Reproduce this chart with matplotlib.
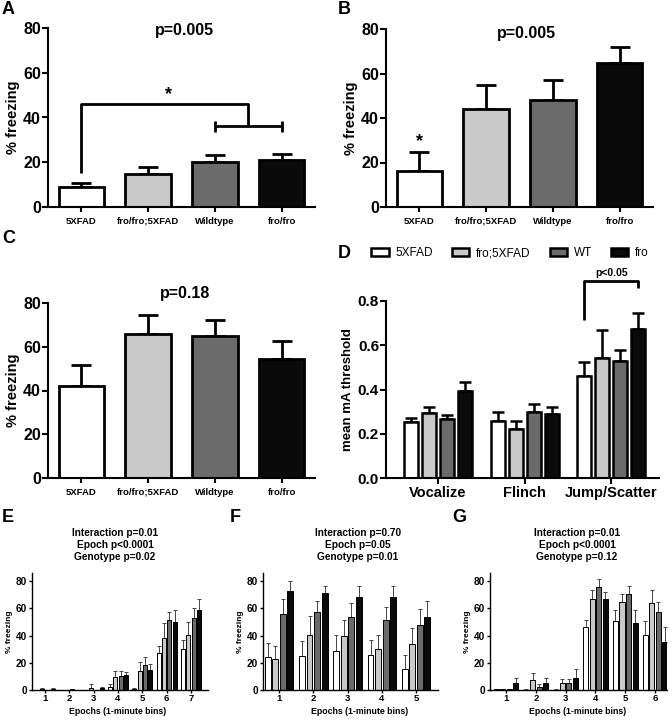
import numpy as np
import matplotlib.pyplot as plt

plt.rcParams['font.family'] = ['Liberation Sans', 'DejaVu Sans']
plt.rcParams['font.weight'] = 'bold'
plt.rcParams['axes.labelweight'] = 'bold'

# ---- data ----
groups = ["5XFAD", "fro/fro;5XFAD", "Wildtype", "fro/fro"]
colors = ["white", "#c9c9c9", "#6b6b6b", "#0a0a0a"]

A_vals = [8.8, 14.7, 20.2, 21.0]
A_err = [1.8, 3.1, 3.0, 2.7]
B_vals = [16.3, 44.1, 48.3, 64.6]
B_err = [8.2, 10.8, 8.6, 7.1]
C_vals = [42.0, 65.7, 65.1, 54.6]
C_err = [9.6, 9.0, 7.3, 7.9]

D_cats = ["Vocalize", "Flinch", "Jump/Scatter"]
D_legend = ["5XFAD", "fro;5XFAD", "WT", "fro"]
D_5xfad = [0.253, 0.259, 0.462]
D_5xfad_err = [0.017, 0.041, 0.064]
D_fro5x = [0.293, 0.221, 0.544]
D_fro5x_err = [0.030, 0.035, 0.125]
D_wt = [0.268, 0.298, 0.529]
D_wt_err = [0.018, 0.036, 0.050]
D_fro = [0.394, 0.289, 0.672]
D_fro_err = [0.042, 0.031, 0.075]

E_white = [0, 0, 0, 2.4, 0.4, 27.4, 30.3]
E_white_err = [0, 0, 0, 2.0, 0.8, 4.6, 6.5]
E_light = [0.8, 0, 1.7, 9.7, 14.3, 38.5, 40.5]
E_light_err = [0.8, 0, 2.4, 4.1, 6.3, 10.7, 9.2]
E_dark = [0, 0.4, 0, 10.4, 18.7, 51.4, 52.6]
E_dark_err = [0, 0.6, 0, 3.9, 5.5, 6.1, 8.0]
E_black = [0.6, 0, 1.2, 10.9, 14.8, 49.7, 58.9]
E_black_err = [0.6, 0, 1.2, 2.4, 4.4, 9.2, 7.8]

F_white = [24.2, 25.2, 28.6, 25.9, 15.8]
F_white_err = [10.5, 10.7, 11.9, 11.2, 9.7]
F_light = [23.0, 40.7, 39.5, 30.3, 33.5]
F_light_err = [9.0, 13.6, 12.1, 10.2, 11.8]
F_dark = [55.8, 57.2, 53.8, 51.6, 48.0]
F_dark_err = [11.4, 8.3, 10.0, 9.2, 11.2]
F_black = [72.7, 71.0, 68.4, 68.4, 54.0]
F_black_err = [7.3, 5.8, 8.0, 8.4, 11.5]

G_white = [0.5, 0.3, 0.3, 46.1, 50.5, 40.5]
G_white_err = [0.5, 0.5, 0.4, 5.6, 8.4, 10.4]
G_light = [0.5, 7.2, 5.3, 66.8, 64.9, 64.0]
G_light_err = [0.5, 5.5, 3.1, 6.5, 5.5, 9.2]
G_dark = [0.4, 2.4, 5.5, 75.7, 70.9, 57.5]
G_dark_err = [0.4, 1.7, 2.4, 5.8, 5.3, 7.2]
G_black = [4.8, 4.8, 8.9, 66.6, 49.3, 35.2]
G_black_err = [4.1, 4.1, 6.7, 5.5, 9.6, 10.8]

E_titles = "Interaction p=0.01\nEpoch p<0.0001\nGenotype p=0.02"
F_titles = "Interaction p=0.70\nEpoch p=0.05\nGenotype p=0.01"
G_titles = "Interaction p=0.01\nEpoch p<0.0001\nGenotype p=0.12"

W, H = 672, 720
fig = plt.figure(figsize=(W / 100, H / 100), dpi=100)


def rect(left, right, top, bottom):
    return [left / W, 1 - bottom / H, (right - left) / W, (bottom - top) / H]


def style(ax, lw):
    for s in ["top", "right"]:
        ax.spines[s].set_visible(False)
    for s in ["left", "bottom"]:
        ax.spines[s].set_linewidth(lw)


# =========================
# A, B, C: four-bar panels
# =========================
def four_bar(r, vals, err, title, tx, ty):
    ax = fig.add_axes(r)
    x = np.arange(len(vals))
    ax.bar(x, vals, width=0.68, color=colors, edgecolor="black", linewidth=2, zorder=2)
    ax.errorbar(x, vals, yerr=[np.zeros(len(vals)), err], fmt="none",
                ecolor="black", elinewidth=2, capsize=7, capthick=2, zorder=1)
    ax.set_xlim(-0.5, 3.5)
    ax.set_ylim(0, 80)
    ax.set_yticks([0, 20, 40, 60, 80])
    ax.set_xticks(x)
    ax.set_xticklabels(groups, fontsize=6.8)
    ax.tick_params(axis="y", labelsize=11.5, length=4, width=1.5, pad=1)
    ax.tick_params(axis="x", length=3.5, width=1.5, pad=3.5)
    ax.set_ylabel("% freezing", fontsize=10.5, labelpad=2)
    ax.text(tx, ty, title, ha="center", va="center", fontsize=11.5)
    style(ax, 1.5)
    return ax


axA = four_bar(rect(48, 315, 28, 207), A_vals, A_err, "p=0.005", 1.55, 79)
# bracket: 5XFAD vs (Wildtype, fro/fro)
kw = dict(color="black", lw=2, clip_on=False, solid_capstyle="butt")
axA.plot([0, 0, 2.5, 2.5], [15, 46, 46, 36], **kw)
axA.plot([2, 3], [36, 36], **kw)
axA.plot([2, 2], [33.5, 38.5], **kw)
axA.plot([3, 3], [33.5, 38.5], **kw)
axA.text(1.3, 46.5, "*", ha="center", va="bottom", fontsize=13)

axB = four_bar(rect(386, 653, 29, 207), B_vals, B_err, "p=0.005", 1.6, 78)
axB.text(0, B_vals[0] + B_err[0] + 1, "*", ha="center", va="bottom", fontsize=13)

axC = four_bar(rect(48, 315, 303, 478), C_vals, C_err, "p=0.18", 1.55, 84.5)

# =========================
# D: shock thresholds
# =========================
axD = fig.add_axes(rect(386, 659, 301, 478))
D_series = [(D_5xfad, D_5xfad_err), (D_fro5x, D_fro5x_err),
            (D_wt, D_wt_err), (D_fro, D_fro_err)]
xd = np.arange(len(D_cats))
step = 0.207
for i, (v, e) in enumerate(D_series):
    pos = xd + (i - 1.5) * step
    axD.bar(pos, v, width=0.16, color=colors[i], edgecolor="black",
            linewidth=1.8, zorder=2, label=D_legend[i])
    axD.errorbar(pos, v, yerr=[np.zeros(len(v)), e], fmt="none", ecolor="black",
                 elinewidth=1.8, capsize=4, capthick=1.8, zorder=1)
axD.set_xlim(-0.6, 2.55)
axD.set_ylim(0, 0.8)
axD.set_yticks([0, 0.2, 0.4, 0.6, 0.8])
axD.set_yticklabels(["0.0", "0.2", "0.4", "0.6", "0.8"])
axD.set_xticks(xd)
axD.set_xticklabels(D_cats, fontsize=10.5)
axD.tick_params(axis="y", labelsize=11, length=4, width=1.5, pad=1)
axD.tick_params(axis="x", length=4, width=1.5, pad=2)
axD.set_ylabel("mean mA threshold", fontsize=9.5, labelpad=3)
style(axD, 1.5)
leg = axD.legend(ncol=4, loc="center", bbox_to_anchor=(0.455, 1.27), frameon=False,
                 prop={"weight": "normal", "size": 8.5}, handlelength=1.45,
                 handleheight=0.6, handletextpad=0.6, columnspacing=1.6)
# bracket 5XFAD vs fro on Jump/Scatter
x0 = xd[2] - 1.5 * step
x1 = xd[2] + 1.5 * step
axD.plot([x0, x0, x1, x1], [0.714, 0.89, 0.89, 0.86], **kw)
axD.text(xd[2], 0.905, "p<0.05", ha="center", va="bottom", fontsize=7.5)


# =========================
# E, F, G: epoch panels
# =========================
def epoch_panel(r, series, xlim, title, title_x, xlab_x):
    ax = fig.add_axes(r)
    n = len(series[0][0])
    xe = np.arange(1, n + 1)
    for i, (v, e) in enumerate(series):
        pos = xe + (i - 1.5) * 0.22
        ax.bar(pos, v, width=0.17, color=colors[i], edgecolor="black",
               linewidth=0.7, zorder=2)
        ax.errorbar(pos, v, yerr=[np.zeros(n), e], fmt="none", ecolor="#444444",
                    elinewidth=0.7, capsize=1.6, capthick=0.7, zorder=1)
    ax.set_xlim(*xlim)
    ax.set_ylim(0, 86)
    ax.set_yticks([0, 20, 40, 60, 80])
    ax.set_xticks(xe)
    ax.tick_params(axis="y", labelsize=7.2, length=2.5, width=1, pad=1)
    ax.tick_params(axis="x", labelsize=6.8, length=2, width=1, pad=0.8)
    ax.set_ylabel("% freezing", fontsize=6, labelpad=2)
    style(ax, 1)
    fig.text(title_x / W, 1 - 545 / H, title, ha="center", va="center",
             fontsize=7.3, linespacing=1.2)
    fig.text(xlab_x / W, 1 - 711 / H, "Epochs (1-minute bins)", ha="center",
             va="center", fontsize=6.3)
    return ax


epoch_panel(rect(32, 208, 573, 690),
            [(E_white, E_white_err), (E_light, E_light_err),
             (E_dark, E_dark_err), (E_black, E_black_err)],
            (0.47, 7.7), E_titles, 115, 118)
epoch_panel(rect(263, 438, 573, 690),
            [(F_white, F_white_err), (F_light, F_light_err),
             (F_dark, F_dark_err), (F_black, F_black_err)],
            (0.53, 5.64), F_titles, 358, 360)
epoch_panel(rect(490, 667, 573, 690),
            [(G_white, G_white_err), (G_light, G_light_err),
             (G_dark, G_dark_err), (G_black, G_black_err)],
            (0.46, 6.4), G_titles, 577, 578)

# panel letters
for letter, px, py in [("A", 2, 10), ("B", 338, 10), ("C", 2, 239), ("D", 338, 253),
                       ("E", 2, 518), ("F", 230, 518), ("G", 452, 518)]:
    fig.text(px / W, 1 - py / H, letter, fontsize=13, ha="left", va="center")

fig.savefig("out.png", dpi=100)
